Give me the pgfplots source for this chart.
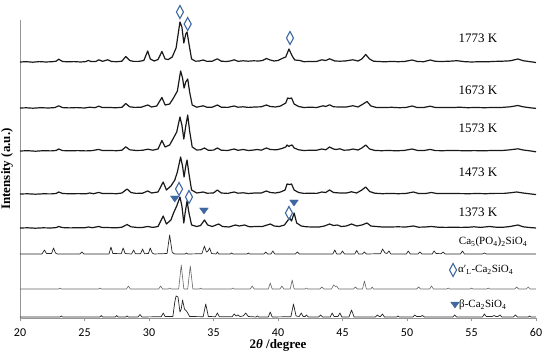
\documentclass[border=0pt]{standalone}
\usepackage{pgfplots}
\pgfplotsset{compat=1.18}
\usepackage{fontspec}
\setmainfont{Liberation Serif}
\newfontfamily\tickfont{Carlito}
\definecolor{mk}{RGB}{62,104,160}
\definecolor{axgray}{RGB}{150,150,150}

\begin{document}
\begin{tikzpicture}
\path[use as bounding box] (-20pt,-36pt) rectangle (530pt,318pt);
\begin{axis}[
    scale only axis,
    width=516pt, height=298pt,
    xmin=20, xmax=60, ymin=0, ymax=298,
    axis x line*=bottom, axis y line*=left,
    axis line style={axgray, line width=0.6pt},
    xtick={20,25,...,60}, ytick=\empty,
    tick align=outside, major tick length=3pt,
    tick style={axgray},
    xticklabel style={font=\tickfont\fontsize{12}{12}\selectfont, yshift=-4pt},
    /pgf/number format/assume math mode=true,
    xlabel={\textbf{2\textit{θ} /degree}},
    ylabel={\textbf{Intensity (a.u.)}},
    label style={font=\fontsize{13}{13}\selectfont},
    xlabel style={at={(axis description cs:0.5,-0.092)}, anchor=center},
    ylabel style={at={(axis description cs:-0.025,0.5)}, anchor=center},
    clip=false,
    xrd/.style={black!90, line width=1.2pt, line join=round},
    ref/.style={black!85, line width=0.7pt, line join=round},
]
% 1773 K
\addplot[xrd] table[row sep=\\, y expr=\thisrow{y}+256] {x y\\
20 0\\ 20.5 0.3\\ 21 -0.2\\ 21.5 0.4\\ 22 0\\ 22.5 0.3\\ 22.8 0.8\\ 23.0 2.8\\ 23.3 0.5\\ 23.7 0.2\\ 24.2 0.4\\ 24.7 0\\ 25.1 0.4\\ 25.3 1.6\\ 25.5 0.4\\ 25.9 0.6\\ 26.1 2.2\\ 26.4 0.7\\ 26.8 2.2\\ 27.1 0.5\\ 27.5 0.3\\ 27.9 0.8\\ 28.2 5.5\\ 28.5 1.5\\ 28.8 0.6\\ 29.2 0.6\\ 29.6 1.5\\ 29.9 11\\ 30.1 3\\ 30.4 1\\ 30.7 2.5\\ 31.0 10.5\\ 31.25 3\\ 31.5 2.5\\ 31.8 5\\ 32.1 14\\ 32.4 40\\ 32.55 35\\ 32.7 19\\ 32.85 28\\ 32.95 30\\ 33.1 18\\ 33.3 3\\ 33.6 0.8\\ 33.9 1\\ 34.2 2\\ 34.5 0.6\\ 34.9 0.8\\ 35.3 3.2\\ 35.6 0.8\\ 36.0 0.5\\ 36.3 1\\ 36.6 2.2\\ 36.9 0.7\\ 37.3 1.2\\ 37.7 0.8\\ 38.1 1.2\\ 38.5 1\\ 38.8 1.5\\ 39.1 3.5\\ 39.4 2\\ 39.7 1\\ 40.0 1.5\\ 40.4 4\\ 40.6 5\\ 40.85 13\\ 41.1 6\\ 41.3 2\\ 41.7 1.5\\ 42.0 0.3\\ 42.5 0.5\\ 43.0 0.6\\ 43.4 2.2\\ 43.7 1.5\\ 44.0 3.2\\ 44.4 1\\ 44.8 0.8\\ 45.2 1\\ 45.8 2.2\\ 46.2 1\\ 46.5 3\\ 46.8 7.5\\ 47.1 3\\ 47.4 0.8\\ 47.8 0.5\\ 48.3 0.2\\ 48.8 0.6\\ 49.3 0.3\\ 49.8 0.5\\ 50.4 2\\ 50.8 0.5\\ 51.3 0.3\\ 51.8 2\\ 52.2 0.7\\ 52.7 0.5\\ 53.3 0.8\\ 53.9 1.3\\ 54.4 0.4\\ 55 0\\ 55.6 0.3\\ 56.2 0.2\\ 56.8 0.6\\ 57.4 0.8\\ 58 1.2\\ 58.6 3\\ 59.0 1.3\\ 59.5 0.4\\ 60 -0.5\\
};
% 1673 K
\addplot[xrd] table[row sep=\\, y expr=\thisrow{y}+210] {x y\\
20 0\\ 20.5 0.2\\ 21 -0.2\\ 21.6 0.3\\ 22.2 0\\ 22.7 0.4\\ 23.0 2.2\\ 23.3 0.4\\ 23.8 0.1\\ 24.4 0.4\\ 25.0 0\\ 25.4 0.8\\ 25.8 0.3\\ 26.1 1.8\\ 26.4 0.4\\ 26.9 0.6\\ 27.4 0.2\\ 27.9 0.7\\ 28.2 4.5\\ 28.5 1.2\\ 28.9 0.6\\ 29.4 0.8\\ 29.9 3\\ 30.2 1\\ 30.6 2\\ 31.0 10.5\\ 31.25 3\\ 31.6 4\\ 31.9 10\\ 32.2 17\\ 32.45 37\\ 32.6 30\\ 32.72 20\\ 32.85 26\\ 33.0 29\\ 33.15 16\\ 33.35 3\\ 33.7 0.8\\ 34.2 2.2\\ 34.5 0.7\\ 34.9 0.8\\ 35.3 3\\ 35.6 0.8\\ 36.1 0.6\\ 36.6 2\\ 36.9 0.8\\ 37.3 1.2\\ 37.7 0.6\\ 38.2 1\\ 38.7 1.2\\ 39.1 3\\ 39.4 1.5\\ 39.8 1\\ 40.2 2\\ 40.6 5\\ 40.75 10\\ 40.9 9.5\\ 41.05 10\\ 41.25 4\\ 41.6 1.5\\ 42.0 0.5\\ 42.5 0.8\\ 43.0 0.5\\ 43.5 2.2\\ 43.7 1.5\\ 44.0 3.2\\ 44.3 1.2\\ 44.8 1\\ 45.3 1\\ 45.8 2.3\\ 46.2 1\\ 46.6 4\\ 46.9 6.5\\ 47.2 2\\ 47.6 0.6\\ 48.2 0.4\\ 48.8 0.7\\ 49.4 0.3\\ 49.9 0.5\\ 50.4 2\\ 50.8 0.4\\ 51.3 0.5\\ 51.8 1.8\\ 52.2 0.5\\ 52.9 0.6\\ 53.5 0.4\\ 54.1 0.8\\ 54.7 0.3\\ 55.3 0.5\\ 56 0.3\\ 56.7 0.5\\ 57.4 0.6\\ 58.0 1.2\\ 58.6 2.5\\ 59.0 1.2\\ 59.5 0.3\\ 60 -0.4\\
};
% 1573 K
\addplot[xrd] table[row sep=\\, y expr=\thisrow{y}+167] {x y\\
20 0\\ 20.6 0.3\\ 21.2 -0.2\\ 21.8 0.3\\ 22.4 0.1\\ 22.8 0.5\\ 23.0 2\\ 23.3 0.4\\ 23.9 0.2\\ 24.5 0.4\\ 25.1 0.1\\ 25.6 0.4\\ 26.1 1.6\\ 26.4 0.4\\ 26.9 0.5\\ 27.5 0.3\\ 27.9 0.8\\ 28.2 4.2\\ 28.5 1.2\\ 29.0 0.5\\ 29.5 0.7\\ 29.9 1.8\\ 30.3 0.8\\ 30.7 2\\ 31.0 10.5\\ 31.25 4\\ 31.6 6\\ 31.9 13\\ 32.15 19\\ 32.4 34\\ 32.55 26\\ 32.7 12\\ 32.85 25\\ 33.0 36\\ 33.15 20\\ 33.35 4\\ 33.7 1\\ 34.0 1.2\\ 34.3 3\\ 34.6 0.7\\ 35.0 0.9\\ 35.3 3\\ 35.6 0.8\\ 36.1 0.5\\ 36.6 2\\ 36.9 0.7\\ 37.3 1.5\\ 37.7 0.5\\ 38.0 0.8\\ 38.4 1.5\\ 38.7 0.8\\ 39.1 3\\ 39.4 1.5\\ 39.9 1.2\\ 40.3 2.5\\ 40.6 4\\ 40.7 6\\ 40.85 4.5\\ 40.95 5.5\\ 41.1 6\\ 41.25 3\\ 41.6 1.2\\ 42.0 0.5\\ 42.6 0.8\\ 43.0 0.8\\ 43.4 2\\ 43.7 1.2\\ 44.0 4\\ 44.3 2\\ 44.5 1.5\\ 44.8 2.2\\ 45.1 0.8\\ 45.5 1\\ 45.8 2\\ 46.2 1\\ 46.5 3\\ 46.8 6\\ 47.1 2\\ 47.5 0.6\\ 48 0.3\\ 48.6 0.5\\ 49.2 0.2\\ 49.8 0.6\\ 50.4 2\\ 50.8 0.6\\ 51.3 0.4\\ 51.8 1.6\\ 52.2 0.4\\ 52.8 0.3\\ 53.4 0.6\\ 54 0.4\\ 54.6 0.2\\ 55.2 0.4\\ 55.9 0.2\\ 56.6 0.5\\ 57.3 0.4\\ 58 1.2\\ 58.6 2.2\\ 59.0 1\\ 59.5 0.2\\ 60 -0.8\\
};
% 1473 K
\addplot[xrd] table[row sep=\\, y expr=\thisrow{y}+124] {x y\\
20 0\\ 20.6 0.2\\ 21.2 -0.2\\ 21.8 0.2\\ 22.4 0.1\\ 22.8 0.5\\ 23.0 2\\ 23.3 0.5\\ 23.9 0.2\\ 24.5 0.4\\ 25.1 0.2\\ 25.4 1\\ 25.7 0.3\\ 26.1 1.6\\ 26.4 0.5\\ 26.9 0.5\\ 27.5 0.3\\ 27.9 1\\ 28.3 5\\ 28.6 1.5\\ 29.0 0.6\\ 29.5 0.8\\ 29.9 3\\ 30.2 1\\ 30.7 2\\ 31.1 12\\ 31.35 4\\ 31.7 8\\ 32.0 14\\ 32.2 22\\ 32.45 37\\ 32.6 28\\ 32.72 17\\ 32.85 28\\ 32.95 34\\ 33.1 20\\ 33.3 4\\ 33.7 1\\ 34.2 2\\ 34.5 0.8\\ 35.0 1\\ 35.3 4\\ 35.6 1\\ 36.1 0.6\\ 36.6 2\\ 36.9 0.8\\ 37.3 1.2\\ 37.7 0.5\\ 38.2 1\\ 38.7 1\\ 39.1 3\\ 39.4 1.5\\ 39.8 1\\ 40.2 2\\ 40.55 4\\ 40.7 10\\ 40.9 9.5\\ 41.05 10\\ 41.25 4\\ 41.6 1.5\\ 42.0 0.6\\ 42.5 0.8\\ 43.0 0.6\\ 43.4 2\\ 43.7 1.5\\ 44.0 4\\ 44.3 1.5\\ 44.8 1\\ 45.3 1\\ 45.7 2.2\\ 46.1 1\\ 46.5 4\\ 46.8 7\\ 47.1 2.5\\ 47.5 0.8\\ 48.1 0.3\\ 48.7 0.6\\ 49.3 0.3\\ 49.9 0.5\\ 50.5 2\\ 50.9 0.5\\ 51.4 0.4\\ 51.9 1.5\\ 52.3 0.5\\ 52.9 0.4\\ 53.5 0.6\\ 54.1 0.4\\ 54.8 0.3\\ 55.4 0.5\\ 56.1 0.3\\ 56.8 0.6\\ 57.5 0.6\\ 58.0 1.2\\ 58.5 2\\ 59.0 1\\ 59.5 0.2\\ 60 -0.6\\
};
% 1373 K
\addplot[xrd] table[row sep=\\, y expr=\thisrow{y}+90] {x y\\
20 0\\ 20.6 0.2\\ 21.2 -0.2\\ 21.8 0.2\\ 22.4 0\\ 22.8 0.4\\ 23.0 1.5\\ 23.3 0.4\\ 23.9 0.1\\ 24.5 0.3\\ 25.0 0.2\\ 25.3 1\\ 25.6 0.3\\ 26.1 1.5\\ 26.4 0.4\\ 26.9 0.4\\ 27.5 0.2\\ 27.9 0.8\\ 28.3 3.5\\ 28.6 1.2\\ 29.1 0.5\\ 29.5 0.6\\ 29.9 1.5\\ 30.3 0.6\\ 30.7 1.5\\ 31.1 12\\ 31.35 4\\ 31.7 8\\ 31.9 15\\ 32.15 22\\ 32.4 31\\ 32.55 22\\ 32.7 5\\ 32.8 15\\ 32.95 27\\ 33.1 15\\ 33.3 3\\ 33.7 1.5\\ 34.0 2.5\\ 34.3 8\\ 34.55 3\\ 34.9 1.5\\ 35.4 4\\ 35.7 1.5\\ 36.2 1\\ 36.7 3\\ 37.0 2\\ 37.4 3\\ 37.8 1.2\\ 38.3 1.5\\ 38.8 1.5\\ 39.4 4\\ 39.7 2\\ 40.1 1.5\\ 40.5 3\\ 40.9 10\\ 41.05 7\\ 41.25 15\\ 41.45 5\\ 41.8 2\\ 42.2 1.2\\ 42.7 1\\ 43.2 1\\ 43.6 2\\ 44.0 4\\ 44.3 2.5\\ 44.6 3\\ 44.9 1.5\\ 45.3 2\\ 45.7 4\\ 46.1 2\\ 46.5 3\\ 46.9 5\\ 47.2 2\\ 47.6 1.5\\ 48.1 1\\ 48.7 1\\ 49.3 1.2\\ 49.9 1\\ 50.5 2\\ 50.9 0.8\\ 51.4 1\\ 51.9 1.5\\ 52.4 0.8\\ 53.0 0.6\\ 53.6 0.8\\ 54.2 0.6\\ 54.8 0.8\\ 55.2 1.2\\ 55.7 0.6\\ 56.4 1.5\\ 56.9 0.8\\ 57.5 0.8\\ 58.0 1.5\\ 58.6 3\\ 59.0 1.2\\ 59.5 0.5\\ 60 0\\
};
% Ca5(PO4)2SiO4 reference
\addplot[ref] table[row sep=\\, y expr=\thisrow{y}+64] {x y\\
20 0\\ 21.7 0\\ 21.9 4\\ 22.05 0.5\\ 22.45 0.5\\ 22.6 6\\ 22.75 1\\ 22.9 0\\ 24.65 0\\ 24.8 2\\ 24.95 0\\ 26.9 0\\ 27.05 7\\ 27.2 0.5\\ 27.85 0.3\\ 28.0 6\\ 28.15 0.5\\ 28.65 0\\ 28.8 4\\ 28.95 0.3\\ 29.35 0.3\\ 29.5 5\\ 29.65 0.3\\ 29.95 0.5\\ 30.1 6\\ 30.25 1\\ 30.4 0\\ 31.4 0.5\\ 31.6 19\\ 31.8 1.5\\ 32.0 0\\ 32.8 0\\ 32.9 1\\ 33.0 0\\ 34.1 0.3\\ 34.3 8\\ 34.45 2\\ 34.55 2.5\\ 34.7 6\\ 34.85 0.5\\ 35.2 0\\ 35.3 2\\ 35.4 0\\ 36.3 0\\ 36.4 1\\ 36.5 0\\ 37.6 0\\ 37.7 1\\ 37.8 0\\ 38.9 0\\ 39.05 2\\ 39.2 0\\ 39.45 0\\ 39.6 3\\ 39.75 0\\ 41.35 0\\ 41.5 2\\ 41.65 0\\ 44.25 0\\ 44.4 4\\ 44.55 0\\ 44.85 0\\ 45.0 3\\ 45.15 0\\ 45.95 0\\ 46.1 3.5\\ 46.25 0\\ 46.55 0\\ 46.7 2\\ 46.85 0\\ 47.95 0.3\\ 48.1 5\\ 48.3 1\\ 48.45 0.5\\ 48.6 3\\ 48.75 0\\ 49.95 0\\ 50.1 3\\ 50.25 0\\ 50.85 0\\ 51.0 2\\ 51.15 0\\ 51.95 0\\ 52.1 3\\ 52.25 0.5\\ 52.65 0.3\\ 52.8 2\\ 52.95 0\\ 54.15 0\\ 54.3 3\\ 54.45 0\\ 55.85 0\\ 56.0 1\\ 56.15 0\\ 60 0\\
};
% alpha'L-Ca2SiO4 reference
\addplot[ref, black!60, line width=0.6pt] table[row sep=\\, y expr=\thisrow{y}+29] {x y\\
20 0\\ 23.0 0\\ 23.1 1\\ 23.2 0\\ 26.1 0\\ 26.2 1\\ 26.3 0\\ 28.25 0\\ 28.4 3\\ 28.55 0\\ 30.75 0\\ 30.9 3\\ 31.05 0\\ 31.5 0\\ 31.6 1\\ 31.7 0\\ 32.3 0\\ 32.5 24\\ 32.7 0\\ 33.0 0\\ 33.2 23\\ 33.4 0\\ 33.9 0\\ 34.0 0.8\\ 34.1 0\\ 36.4 0\\ 36.5 1\\ 36.6 0\\ 37.85 0\\ 38.0 3\\ 38.15 0\\ 39.25 0\\ 39.4 6\\ 39.55 0\\ 40.15 0\\ 40.3 3\\ 40.45 0\\ 40.95 0\\ 41.1 9\\ 41.25 0\\ 42.1 0\\ 42.2 1\\ 42.3 0\\ 43.25 0\\ 43.4 2\\ 43.55 0\\ 44.15 0\\ 44.3 4\\ 44.45 2.5\\ 44.55 3\\ 44.7 0\\ 45.85 0\\ 46.0 2\\ 46.15 0\\ 46.55 0\\ 46.7 8\\ 46.85 0\\ 47.2 0\\ 47.3 2\\ 47.4 0\\ 50.75 0\\ 50.9 2\\ 51.05 0\\ 51.75 0\\ 51.9 3\\ 52.05 0\\ 53.1 0\\ 53.2 1\\ 53.3 0\\ 54.9 0\\ 55.0 1\\ 55.1 0\\ 56.2 0\\ 56.3 1\\ 56.4 0\\ 58.35 0\\ 58.5 2\\ 58.65 0\\ 59.25 0\\ 59.4 2\\ 59.55 0\\ 60 0\\
};
% beta-Ca2SiO4 reference
\addplot[ref] table[row sep=\\, y expr=\thisrow{y}+1] {x y\\
20 0\\ 23.1 0\\ 23.2 1\\ 23.3 0\\ 26.2 0\\ 26.3 1.5\\ 26.4 0\\ 27.4 0\\ 27.5 1.5\\ 27.6 0\\ 28.2 0\\ 28.3 1\\ 28.4 0\\ 29.15 0\\ 29.3 2.5\\ 29.45 0\\ 30.95 0.3\\ 31.1 4\\ 31.25 0.5\\ 31.85 0.5\\ 32.0 15\\ 32.1 21\\ 32.25 20\\ 32.4 5\\ 32.5 8\\ 32.6 17\\ 32.75 8\\ 32.9 6\\ 33.0 4\\ 33.15 0.5\\ 34.2 0.3\\ 34.4 13\\ 34.6 0.5\\ 35.15 0.3\\ 35.3 4\\ 35.45 0.3\\ 36.45 0.3\\ 36.6 3\\ 36.75 1\\ 36.9 2\\ 37.05 0.5\\ 37.3 1\\ 37.5 4\\ 37.7 0.5\\ 38.3 0\\ 38.4 1\\ 38.5 0\\ 39.25 0\\ 39.4 5\\ 39.55 0\\ 41.0 0.3\\ 41.2 13\\ 41.4 1\\ 41.65 0.5\\ 41.8 4\\ 41.95 0.5\\ 42.1 0.5\\ 42.2 2\\ 42.35 0\\ 43.15 0\\ 43.3 2\\ 43.45 0\\ 44.05 0\\ 44.2 4\\ 44.35 0.5\\ 44.65 0.5\\ 44.8 4\\ 44.95 0\\ 45.5 0\\ 45.7 7\\ 45.9 0\\ 47.55 0\\ 47.7 2\\ 47.85 0.5\\ 47.95 0.5\\ 48.1 3\\ 48.25 0\\ 49.2 0\\ 49.3 1\\ 49.4 0\\ 50.45 0\\ 50.6 2\\ 50.75 0.5\\ 51.05 0.5\\ 51.2 1.5\\ 51.35 0\\ 53.55 0\\ 53.7 2\\ 53.85 0\\ 55.85 0\\ 56.0 3\\ 56.15 0.5\\ 56.6 0.5\\ 56.75 1.5\\ 56.9 0.5\\ 57.05 0.5\\ 57.2 2\\ 57.35 0\\ 58.25 0\\ 58.4 2\\ 58.55 0\\ 59.4 0\\ 59.5 1\\ 59.6 0\\ 60 0\\
};
% phase markers: alpha'L (diamonds), beta (triangles)
\addplot[only marks, mark=diamond, mark size=6.5pt,
    mark options={xscale=0.72, draw=mk, fill=white, line width=1.1pt}]
    coordinates {(32.4,306) (33.0,294) (40.93,280) (32.33,129) (33.1,121) (40.85,105) (53.57,48)};
\addplot[only marks, mark=triangle*, mark size=5pt,
    mark options={rotate=180, yscale=0.8, draw=mk, fill=mk}]
    coordinates {(32.0,120) (34.26,108) (41.24,116) (53.72,14)};
% labels
\node[font=\fontsize{13}{13}\selectfont] at (axis cs:55.5,280) {1773 K};
\node[font=\fontsize{13}{13}\selectfont] at (axis cs:55.5,228) {1673 K};
\node[font=\fontsize{13}{13}\selectfont] at (axis cs:55.5,190) {1573 K};
\node[font=\fontsize{13}{13}\selectfont] at (axis cs:55.5,146) {1473 K};
\node[font=\fontsize{13}{13}\selectfont] at (axis cs:55.5,106) {1373 K};
\node[font=\fontsize{11}{11}\selectfont] at (axis cs:56.67,76) {Ca\textsubscript{5}(PO\textsubscript{4})\textsubscript{2}SiO\textsubscript{4}};
\node[font=\fontsize{11}{11}\selectfont, anchor=west, inner sep=0pt] at (axis cs:53.95,48) {α′\textsubscript{L}-Ca\textsubscript{2}SiO\textsubscript{4}};
\node[font=\fontsize{11}{11}\selectfont, anchor=west, inner sep=0pt] at (axis cs:54.03,13) {β-Ca\textsubscript{2}SiO\textsubscript{4}};
\end{axis}
\end{tikzpicture}
\end{document}
